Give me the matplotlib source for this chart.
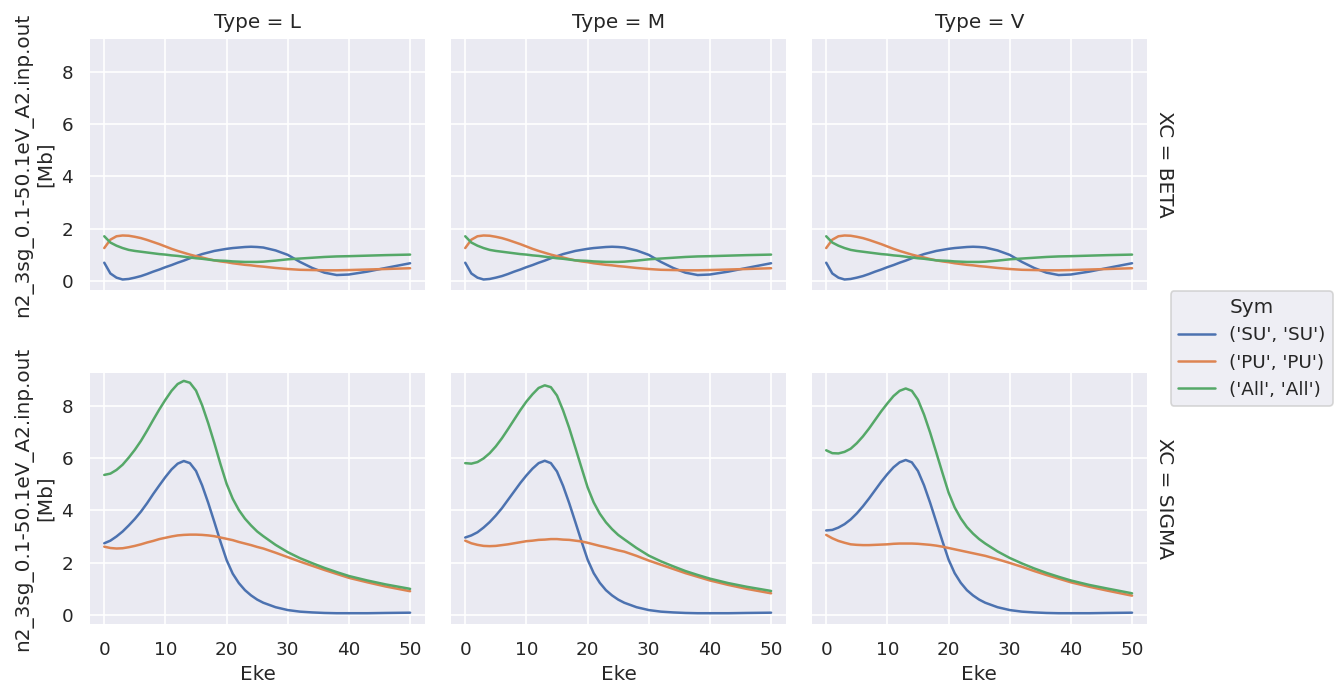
import matplotlib
matplotlib.use("Agg")
import matplotlib.pyplot as plt
import seaborn as sns

sns.set_theme(style="darkgrid")

eke = [0, 1, 2, 3, 4, 5, 6, 7, 8, 9, 10, 11, 12, 13, 14, 15, 16, 17, 18, 19, 20,
       21, 22, 23, 24, 25, 26, 28, 30, 32, 34, 36, 38, 40, 43, 46, 50]

types = ["L", "M", "V"]
xcs = ["BETA", "SIGMA"]
syms = ["('SU', 'SU')", "('PU', 'PU')", "('All', 'All')"]

# BETA row (same for L, M, V)
beta_su = [0.70, 0.29, 0.13, 0.06, 0.08, 0.13, 0.19, 0.27, 0.36, 0.44, 0.53, 0.61, 0.70, 0.78,
           0.87, 0.95, 1.03, 1.09, 1.15, 1.19, 1.23, 1.26, 1.28, 1.30, 1.31, 1.30, 1.28,
           1.17, 1.00, 0.73, 0.50, 0.32, 0.23, 0.25, 0.36, 0.50, 0.68]
beta_pu = [1.26, 1.58, 1.71, 1.74, 1.73, 1.69, 1.64, 1.57, 1.49, 1.41, 1.32, 1.23, 1.15, 1.08,
           1.01, 0.95, 0.90, 0.84, 0.79, 0.75, 0.72, 0.68, 0.65, 0.62, 0.60, 0.57, 0.55,
           0.50, 0.46, 0.43, 0.42, 0.41, 0.41, 0.42, 0.44, 0.46, 0.49]
beta_all = [1.71, 1.47, 1.35, 1.26, 1.19, 1.15, 1.12, 1.09, 1.06, 1.03, 1.01, 0.98, 0.96, 0.93,
            0.90, 0.87, 0.85, 0.82, 0.79, 0.78, 0.77, 0.75, 0.74, 0.73, 0.73, 0.73, 0.74,
            0.78, 0.83, 0.86, 0.89, 0.92, 0.94, 0.95, 0.97, 0.99, 1.01]

# SIGMA row
sig_L_su = [2.74, 2.84, 3.00, 3.19, 3.42, 3.67, 3.95, 4.27, 4.62, 4.95, 5.27, 5.56, 5.78, 5.88,
            5.80, 5.50, 4.95, 4.28, 3.55, 2.80, 2.10, 1.58, 1.22, 0.95, 0.75, 0.59, 0.47,
            0.30, 0.19, 0.13, 0.10, 0.08, 0.07, 0.07, 0.07, 0.08, 0.09]
sig_L_pu = [2.61, 2.56, 2.54, 2.55, 2.59, 2.64, 2.70, 2.77, 2.83, 2.90, 2.95, 3.00, 3.04, 3.06,
            3.07, 3.07, 3.06, 3.04, 3.01, 2.96, 2.91, 2.86, 2.79, 2.73, 2.67, 2.60, 2.54,
            2.38, 2.21, 2.04, 1.88, 1.72, 1.57, 1.42, 1.25, 1.09, 0.91]
sig_L_all = [5.35, 5.40, 5.54, 5.74, 6.01, 6.31, 6.65, 7.04, 7.45, 7.85, 8.22, 8.56, 8.82, 8.94,
             8.87, 8.57, 8.01, 7.32, 6.56, 5.76, 5.01, 4.44, 4.01, 3.68, 3.42, 3.19, 3.01,
             2.68, 2.40, 2.17, 1.98, 1.80, 1.64, 1.49, 1.32, 1.17, 1.00]

sig_M_su = [2.96, 3.04, 3.16, 3.34, 3.55, 3.80, 4.08, 4.40, 4.72, 5.04, 5.33, 5.59, 5.80, 5.89,
            5.80, 5.48, 4.93, 4.27, 3.55, 2.82, 2.12, 1.60, 1.23, 0.95, 0.75, 0.59, 0.47,
            0.30, 0.19, 0.13, 0.10, 0.08, 0.07, 0.07, 0.07, 0.08, 0.09]
sig_M_pu = [2.84, 2.74, 2.68, 2.64, 2.63, 2.64, 2.67, 2.70, 2.74, 2.78, 2.82, 2.84, 2.87, 2.88,
            2.90, 2.90, 2.88, 2.87, 2.84, 2.81, 2.76, 2.70, 2.64, 2.59, 2.53, 2.47, 2.42,
            2.26, 2.08, 1.92, 1.76, 1.60, 1.46, 1.32, 1.15, 1.00, 0.83]
sig_M_all = [5.80, 5.78, 5.84, 5.98, 6.18, 6.44, 6.75, 7.10, 7.46, 7.82, 8.15, 8.43, 8.67, 8.77,
             8.70, 8.38, 7.81, 7.14, 6.39, 5.63, 4.88, 4.30, 3.87, 3.54, 3.28, 3.06, 2.89,
             2.56, 2.27, 2.05, 1.86, 1.68, 1.53, 1.39, 1.22, 1.08, 0.92]

sig_V_su = [3.23, 3.25, 3.34, 3.47, 3.65, 3.88, 4.15, 4.45, 4.77, 5.09, 5.38, 5.64, 5.83, 5.92,
            5.83, 5.50, 4.95, 4.28, 3.55, 2.82, 2.12, 1.60, 1.23, 0.95, 0.75, 0.59, 0.47,
            0.30, 0.19, 0.13, 0.10, 0.08, 0.07, 0.07, 0.07, 0.08, 0.09]
sig_V_pu = [3.06, 2.93, 2.83, 2.76, 2.70, 2.68, 2.67, 2.67, 2.68, 2.69, 2.70, 2.72, 2.73, 2.73,
            2.73, 2.72, 2.70, 2.68, 2.65, 2.61, 2.56, 2.51, 2.46, 2.41, 2.36, 2.31, 2.26,
            2.13, 1.99, 1.84, 1.68, 1.53, 1.39, 1.25, 1.08, 0.93, 0.74]
sig_V_all = [6.29, 6.18, 6.17, 6.23, 6.35, 6.56, 6.82, 7.12, 7.45, 7.78, 8.08, 8.36, 8.56, 8.65,
             8.56, 8.22, 7.65, 6.96, 6.20, 5.43, 4.68, 4.11, 3.69, 3.36, 3.11, 2.90, 2.73,
             2.43, 2.18, 1.97, 1.78, 1.61, 1.46, 1.32, 1.15, 1.01, 0.83]

data = {
    ("BETA", "L"): [beta_su, beta_pu, beta_all],
    ("BETA", "M"): [beta_su, beta_pu, beta_all],
    ("BETA", "V"): [beta_su, beta_pu, beta_all],
    ("SIGMA", "L"): [sig_L_su, sig_L_pu, sig_L_all],
    ("SIGMA", "M"): [sig_M_su, sig_M_pu, sig_M_all],
    ("SIGMA", "V"): [sig_V_su, sig_V_pu, sig_V_all],
}

colors = sns.color_palette()[:3]

DPI = 120
fig, axes = plt.subplots(2, 3, figsize=(1342 / DPI, 697 / DPI), dpi=DPI,
                         sharex=True, sharey=True)
fig.subplots_adjust(left=0.0663, right=0.8554, top=0.9455, bottom=0.1033,
                    wspace=0.071, hspace=0.32)

handles = []
for r, xc in enumerate(xcs):
    for c, t in enumerate(types):
        ax = axes[r, c]
        for s, (vals, col) in enumerate(zip(data[(xc, t)], colors)):
            ln, = ax.plot(eke, vals, color=col, lw=1.5, label=syms[s])
            if r == 0 and c == 0:
                handles.append(ln)
        if r == 0:
            ax.set_title(f"Type = {t}", fontsize=12)
        if r == 1:
            ax.set_xlabel("Eke", fontsize=12)
        if c == 0:
            ax.set_ylabel("n2_3sg_0.1-50.1eV_A2.inp.out\n[Mb]", fontsize=12)
        if c == 2:
            ax.text(1.02, 0.5, f"XC = {xc}", transform=ax.transAxes, rotation=270,
                    va="center", ha="left", fontsize=12)
        ax.tick_params(labelsize=11)

axes[0, 0].set_xticks([0, 10, 20, 30, 40, 50])
axes[0, 0].set_yticks([0, 2, 4, 6, 8])
axes[0, 0].set_xlim(-2.5, 52.6)
axes[0, 0].set_ylim(-0.38, 9.28)

leg = fig.legend(handles, syms, title="Sym", loc="center left",
                 bbox_to_anchor=(0.8655, 0.50), fontsize=11, title_fontsize=12,
                 frameon=True)

fig.savefig("out.png", dpi=DPI)
